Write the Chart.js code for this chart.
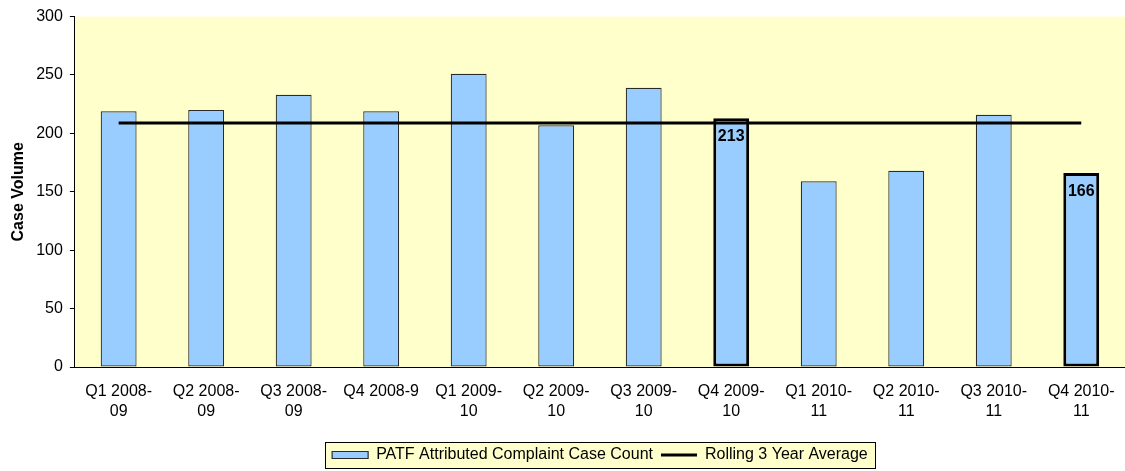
<!DOCTYPE html>
<html>
<head>
<meta charset="utf-8">
<script src="https://cdn.jsdelivr.net/npm/chart.js@4.4.1/dist/chart.umd.min.js"></script>
<style>
  html, body { margin: 0; padding: 0; background: #ffffff; overflow: hidden; }
  #wrap { width: 1125px; height: 471px; position: relative; }
</style>
</head>
<body>
<div id="wrap"><canvas id="c"></canvas></div>
<script>
// ---- data ----
const categories = [
  ["Q1 2008-", "09"], ["Q2 2008-", "09"], ["Q3 2008-", "09"], ["Q4 2008-9"],
  ["Q1 2009-", "10"], ["Q2 2009-", "10"], ["Q3 2009-", "10"], ["Q4 2009-", "10"],
  ["Q1 2010-", "11"], ["Q2 2010-", "11"], ["Q3 2010-", "11"], ["Q4 2010-", "11"]
];
const caseCounts = [219, 220, 233, 219, 251, 207, 239, 213, 159, 168, 216, 166];
const rollingAverage = [209, 209, 209, 209, 209, 209, 209, 209, 209, 209, 209, 209];
const labelledIndices = [7, 11];
const yTicks = { min: 0, max: 300, step: 50 };
const seriesNames = ["PATF Attributed Complaint Case Count", "Rolling 3 Year Average"];

const FONT = "'Liberation Sans', Arial, Helvetica, sans-serif";
Chart.defaults.font.family = FONT;
Chart.defaults.font.size = 16;
Chart.defaults.color = '#000';

// center the legend under the plot area (as in the reference)
const legendShiftPlugin = {
  id: 'legendShiftPlugin',
  afterLayout(chart) {
    const lg = chart.legend;
    if (!lg) return;
    const a = chart.chartArea;
    const delta = (a.left + a.right) / 2 - (lg.left + lg.right) / 2;
    lg.left += delta;
    lg.right += delta;
    lg.top += 2;
    lg.bottom += 2;
  }
};

const bgPlugin = {
  id: 'bgPlugin',
  beforeDraw(chart) {
    const ctx = chart.ctx;
    const a = chart.chartArea;
    ctx.save();
    ctx.fillStyle = '#FFFFCC';
    ctx.fillRect(a.left, a.top, a.right - a.left, a.bottom - a.top);
    const lg = chart.legend;
    if (lg && lg.legendHitBoxes && lg.legendHitBoxes.length) {
      let l = Infinity, r = -Infinity, t = Infinity, b = -Infinity;
      lg.legendHitBoxes.forEach(h => {
        l = Math.min(l, h.left); r = Math.max(r, h.left + h.width);
        t = Math.min(t, h.top); b = Math.max(b, h.top + h.height);
      });
      const cy = (t + b) / 2;
      const x0 = Math.round(l - 7) + 0.5, x1 = Math.round(r + 7) + 0.5;
      const y0 = Math.round(cy - 13) + 0.5, y1 = Math.round(cy + 13) + 0.5;
      ctx.fillStyle = '#FFFFCC';
      ctx.fillRect(x0, y0, x1 - x0, y1 - y0);
      ctx.strokeStyle = '#000';
      ctx.lineWidth = 1;
      ctx.strokeRect(x0, y0, x1 - x0, y1 - y0);
    }
    ctx.restore();
  }
};

const valueLabelPlugin = {
  id: 'valueLabelPlugin',
  afterDatasetsDraw(chart) {
    const meta = chart.getDatasetMeta(0);
    const ctx = chart.ctx;
    ctx.save();
    ctx.font = 'bold 16px ' + FONT;
    ctx.fillStyle = '#000';
    ctx.textAlign = 'center';
    ctx.textBaseline = 'middle';
    labelledIndices.forEach(i => {
      const el = meta.data[i];
      ctx.fillText(String(caseCounts[i]), el.x, el.y + 18);
    });
    ctx.restore();
  }
};

new Chart(document.getElementById('c'), {
  data: {
    labels: categories,
    datasets: [
      {
        type: 'bar',
        label: seriesNames[0],
        data: caseCounts,
        backgroundColor: '#99CCFF',
        borderColor: ctx => labelledIndices.includes(ctx.dataIndex) ? '#000' : '#2a2a2a',
        borderWidth: ctx => labelledIndices.includes(ctx.dataIndex) ? 3 : 1.2,
        borderSkipped: false,
        barPercentage: 0.41,
        categoryPercentage: 1.0,
        pointStyle: 'rect',
        order: 1
      },
      {
        type: 'line',
        label: seriesNames[1],
        data: rollingAverage,
        borderColor: '#000',
        backgroundColor: '#000',
        borderWidth: 3,
        pointRadius: 0,
        pointHoverRadius: 0,
        fill: false,
        pointStyle: 'line',
        order: 0
      }
    ]
  },
  options: {
    responsive: true,
    maintainAspectRatio: false,
    animation: false,
    layout: { padding: { top: 15, right: 0, bottom: 0, left: 9 } },
    plugins: {
      tooltip: { enabled: false },
      legend: {
        position: 'bottom',
        labels: {
          usePointStyle: true,
          pointStyleWidth: 36,
          boxWidth: 36,
          boxHeight: 7,
          padding: 8,
          color: '#000',
          font: { size: 16, family: FONT },
          sort: (a, b) => a.datasetIndex - b.datasetIndex
        }
      }
    },
    scales: {
      x: {
        offset: true,
        afterFit: s => { s.height += 12; },
        grid: { display: true, drawOnChartArea: false, drawTicks: true, tickLength: 12, color: 'rgba(0,0,0,0)' },
        border: { display: true, color: '#000', width: 1 },
        ticks: {
          maxRotation: 0,
          minRotation: 0,
          autoSkip: false,
          padding: 3,
          color: '#000',
          font: { size: 16, family: FONT, lineHeight: 1.25 }
        }
      },
      y: {
        min: yTicks.min,
        max: yTicks.max,
        grid: { drawOnChartArea: false, drawTicks: true, tickLength: 5, color: '#000' },
        border: { display: true, color: '#000', width: 1 },
        ticks: { stepSize: yTicks.step, padding: 7, color: '#000', font: { size: 16, family: FONT } },
        title: {
          display: true,
          text: 'Case Volume',
          color: '#000',
          font: { size: 16, weight: 'bold', family: FONT },
          padding: { top: 0, bottom: 1 }
        }
      }
    }
  },
  plugins: [legendShiftPlugin, bgPlugin, valueLabelPlugin]
});
</script>
</body>
</html>
